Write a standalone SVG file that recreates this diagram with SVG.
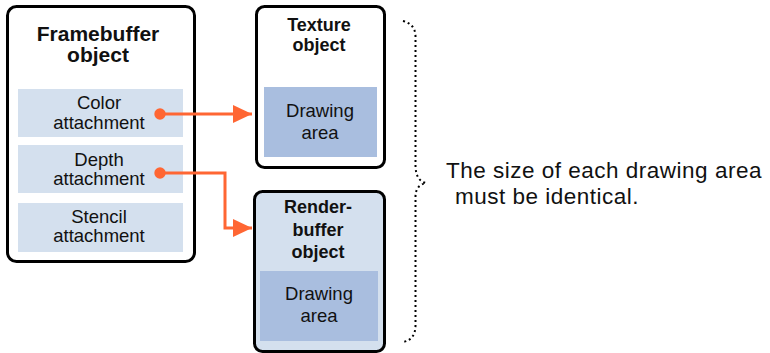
<svg xmlns="http://www.w3.org/2000/svg" width="770" height="353" viewBox="0 0 770 353">
<style>
.box{fill:#fff;stroke:#000;stroke-width:3}
.att{fill:#d4e0ee}
.area{fill:#a9bedf}
.t{font-family:"Liberation Sans",Arial,Helvetica,sans-serif;fill:#111;text-anchor:middle}
.b{font-weight:bold}
.lbl{font-size:18.5px}
.conn{fill:none;stroke:#ff6633;stroke-width:3}
.brace{fill:none;stroke:#000;stroke-width:2;stroke-dasharray:2 3}
.note{font-size:22.5px;letter-spacing:0.5px;text-anchor:start}
</style>
<defs>
<marker id="ah" markerWidth="20" markerHeight="20" refX="19" refY="9" orient="auto" markerUnits="userSpaceOnUse">
<path d="M0,0 L19,9 L0,18 Z" fill="#ff6633"/>
</marker>
</defs>
<g id="framebuffer">
<rect class="box" x="7.5" y="6.5" width="187" height="255" rx="9"/>
<text class="t b" x="98" y="41" font-size="21">Framebuffer</text>
<text class="t b" x="98" y="62" font-size="21">object</text>
</g>
<g id="color-attachment">
<rect class="att" x="18" y="89" width="165" height="48"/>
<text class="t lbl" x="99" y="109">Color</text>
<text class="t lbl" x="99" y="129">attachment</text>
</g>
<g id="depth-attachment">
<rect class="att" x="18" y="145" width="165" height="48"/>
<text class="t lbl" x="99" y="166">Depth</text>
<text class="t lbl" x="99" y="185">attachment</text>
</g>
<g id="stencil-attachment">
<rect class="att" x="18" y="203" width="165" height="49"/>
<text class="t lbl" x="99" y="223">Stencil</text>
<text class="t lbl" x="99" y="242">attachment</text>
</g>
<g id="texture">
<rect class="box" x="256.5" y="6.5" width="128" height="161" rx="8"/>
<text class="t b" x="319" y="31" font-size="18">Texture</text>
<text class="t b" x="319" y="51" font-size="18">object</text>
<rect class="area" x="264" y="87" width="113" height="70"/>
<text class="t lbl" x="320" y="117">Drawing</text>
<text class="t lbl" x="320" y="139">area</text>
</g>
<g id="renderbuffer">
<rect class="box" x="254.5" y="191.5" width="130" height="160" rx="8" style="fill:#d4e0ee"/>
<text class="t b" x="318" y="213" font-size="18">Render-</text>
<text class="t b" x="318" y="236" font-size="18">buffer</text>
<text class="t b" x="318" y="258" font-size="18">object</text>
<rect class="area" x="260" y="271" width="118" height="70"/>
<text class="t lbl" x="319" y="300">Drawing</text>
<text class="t lbl" x="319" y="322">area</text>
</g>
<g id="connectors">
<circle cx="160" cy="114" r="5.7" fill="#ff6633"/>
<path class="conn" d="M160,114 H252" marker-end="url(#ah)"/>
<circle cx="160" cy="173" r="5.7" fill="#ff6633"/>
<path class="conn" d="M160,173 H225 V228 H252" marker-end="url(#ah)"/>
</g>
<g id="brace">
<path class="brace" d="M403,21 Q415,24 415.5,36 V166 Q416,181 426,183 Q416,185 415.5,196 V326 Q415,340 403,342"/>
</g>
<g id="note">
<text class="t note" x="446" y="178">The size of each drawing area</text>
<text class="t note" x="455" y="204">must be identical.</text>
</g>
</svg>
